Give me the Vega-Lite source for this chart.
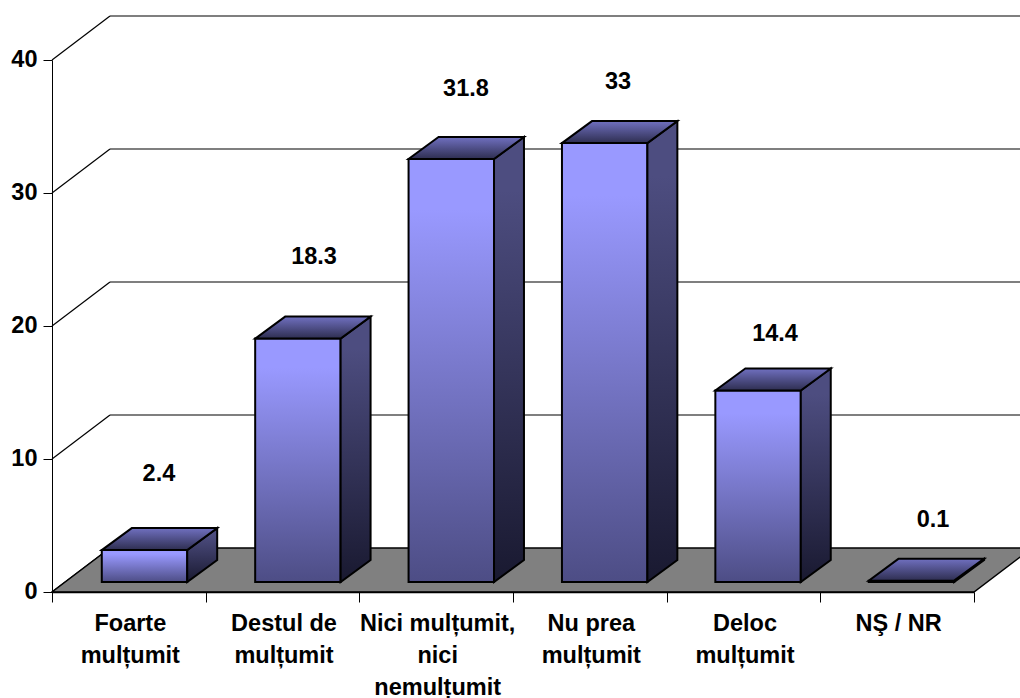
{
"$schema":"https://vega.github.io/schema/vega-lite/v6.json",
"width":922,"height":532,
"autosize":{"type":"none"},
"padding":{"left":52,"top":60,"right":46,"bottom":106},
"background":"white",
"config":{"view":{"stroke":null},"font":"Liberation Sans"},
"data":{"values":[
{"cat":"Foarte mulțumit","value":2.4},
{"cat":"Destul de mulțumit","value":18.3},
{"cat":"Nici mulțumit, nici nemulțumit","value":31.8},
{"cat":"Nu prea mulțumit","value":33},
{"cat":"Deloc mulțumit","value":14.4},
{"cat":"NȘ / NR","value":0.1}
]},
"transform":[
{"window":[{"op":"row_number","as":"i"}]},
{"calculate":"0.602+0.9982*(datum.i-1)-0.278","as":"x0"},
{"calculate":"datum.x0+0.556","as":"x1"},
{"calculate":"datum.x1+0.195","as":"xb"},
{"calculate":"datum.value+0.752","as":"yf"},
{"calculate":"datum.yf+1.654","as":"yb"}
],
"resolve":{"scale":{"x":"independent"},"axis":{"x":"independent","y":"independent"}},
"layer":[
{"mark":{"type":"point","opacity":0},
 "encoding":{
  "x":{"field":"cat","type":"nominal","sort":null,"scale":{"type":"band","paddingInner":0,"paddingOuter":0},
   "axis":{"title":null,"labelAngle":0,"labelFont":"Liberation Sans","labelFontWeight":"bold","labelFontSize":23.5,"labelColor":"black","labelPadding":9,"labelOffset":1,"labelLineHeight":32,"labelLimit":300,"labelOverlap":false,"labelBound":false,"labelFlush":false,"tickBand":"extent","tickSize":10,"tickColor":"black","tickWidth":1,"domainColor":"black","domainWidth":1.5,"zindex":1,
   "labelExpr":"{'Foarte mulțumit':['Foarte','mulțumit'],'Destul de mulțumit':['Destul de','mulțumit'],'Nici mulțumit, nici nemulțumit':['Nici mulțumit,','nici','nemulțumit'],'Nu prea mulțumit':['Nu prea','mulțumit'],'Deloc mulțumit':['Deloc','mulțumit'],'NȘ / NR':['NŞ / NR']}[datum.value]"}},
  "y":{"field":"value","type":"quantitative","scale":{"domain":[0,40],"nice":false},
   "axis":{"title":null,"values":[0,10,20,30,40],"grid":false,"labelFont":"Liberation Sans","labelFontWeight":"bold","labelFontSize":23.5,"labelColor":"black","labelPadding":6,"labelOffset":-1,"tickSize":9,"tickColor":"black","tickWidth":1,"domainColor":"black","domainWidth":1}}
 }},
{"layer":[
 {"data":{"values":[{"tick":10},{"tick":20},{"tick":30},{"tick":40},{"tick":0}]},
  "transform":[{"calculate":"0","as":"a"},{"calculate":"0.3774","as":"b"},{"calculate":"datum.tick+3.308","as":"t2"}],
  "mark":{"type":"rule","color":"black","strokeWidth":1.2},
  "encoding":{
   "x":{"field":"a","type":"quantitative","scale":{"domain":[0,6],"nice":false,"zero":false},"axis":null},
   "x2":{"field":"b"},
   "y":{"field":"tick","type":"quantitative","axis":null},
   "y2":{"field":"t2"}}},
 {"data":{"values":[{"tick":10},{"tick":20},{"tick":30},{"tick":40}]},
  "transform":[{"calculate":"0.3774","as":"a"},{"calculate":"6.3774","as":"b"},{"calculate":"datum.tick+3.308","as":"t2"}],
  "mark":{"type":"rule","color":"black","strokeWidth":1.2},
  "encoding":{
   "x":{"field":"a","type":"quantitative","axis":null},
   "x2":{"field":"b"},
   "y":{"field":"t2","type":"quantitative","axis":null}}},
 {"data":{"values":[{"depth":0},{"depth":1}]},
  "transform":[{"calculate":"datum.depth*3.308","as":"yv"},{"calculate":"datum.depth*0.3774","as":"xl"},{"calculate":"6+datum.depth*0.3774","as":"xr"}],
  "mark":{"type":"area","orient":"horizontal","fill":"#808080","stroke":"black","strokeWidth":1.5},
  "encoding":{
   "x":{"field":"xl","type":"quantitative","stack":false,"axis":null},
   "x2":{"field":"xr"},
   "y":{"field":"yv","type":"quantitative","axis":null}}},
 {"mark":{"type":"bar","stroke":"black","strokeWidth":2,"strokeJoin":"miter",
   "fill":{"gradient":"linear","x1":0,"y1":0,"x2":0,"y2":1,"stops":[{"offset":0,"color":"#9999FF"},{"offset":0.12,"color":"#9999FF"},{"offset":1,"color":"#4D4D85"}]}},
  "encoding":{
   "x":{"field":"x0","type":"quantitative","axis":null},
   "x2":{"field":"x1"},
   "y":{"field":"yf","type":"quantitative","axis":null},
   "y2":{"field":"bottom"}},
  "transform":[{"calculate":"0.752","as":"bottom"}]},
 {"transform":[
   {"fold":["x1","xb"],"as":["edge","xv"]},
   {"calculate":"datum.edge=='xb'?datum.yb:datum.yf","as":"yt"},
   {"calculate":"datum.edge=='xb'?2.406:0.752","as":"yl"}],
  "mark":{"type":"area","stroke":"black","strokeWidth":2,"strokeJoin":"miter",
   "fill":{"gradient":"linear","x1":0,"y1":0,"x2":0,"y2":1,"stops":[{"offset":0,"color":"#4D4D80"},{"offset":0.12,"color":"#4D4D80"},{"offset":1,"color":"#191930"}]}},
  "encoding":{
   "x":{"field":"xv","type":"quantitative","axis":null},
   "y":{"field":"yt","type":"quantitative","axis":null},
   "y2":{"field":"yl"},
   "detail":{"field":"cat"}}},
 {"transform":[
   {"fold":["yf","yb"],"as":["edge","yv"]},
   {"calculate":"datum.edge=='yb'?datum.x0+0.195:datum.x0","as":"xl"},
   {"calculate":"datum.edge=='yb'?datum.xb:datum.x1","as":"xr"}],
  "mark":{"type":"area","orient":"horizontal","stroke":"black","strokeWidth":2,"strokeJoin":"miter",
   "fill":{"gradient":"linear","x1":0,"y1":0,"x2":0,"y2":1,"stops":[{"offset":0,"color":"#7070C0"},{"offset":1,"color":"#2E2E50"}]}},
  "encoding":{
   "x":{"field":"xl","type":"quantitative","stack":false,"axis":null},
   "x2":{"field":"xr"},
   "y":{"field":"yv","type":"quantitative","axis":null},
   "detail":{"field":"cat"}}},
 {"transform":[
   {"calculate":"datum.i-0.5+[0.196,0.205,0.194,0.183,0.205,0.233][datum.i-1]","as":"lx"},
   {"calculate":"datum.value+[6.46,6.87,6.0,5.33,4.98,5.3][datum.i-1]","as":"ly"}],
  "mark":{"type":"text","font":"Liberation Sans","fontWeight":"bold","fontSize":23.5,"color":"black","baseline":"middle","align":"center"},
  "encoding":{
   "x":{"field":"lx","type":"quantitative","axis":null},
   "y":{"field":"ly","type":"quantitative","axis":null},
   "text":{"field":"value","type":"quantitative","format":".1~f"}}}
]}
]
}
